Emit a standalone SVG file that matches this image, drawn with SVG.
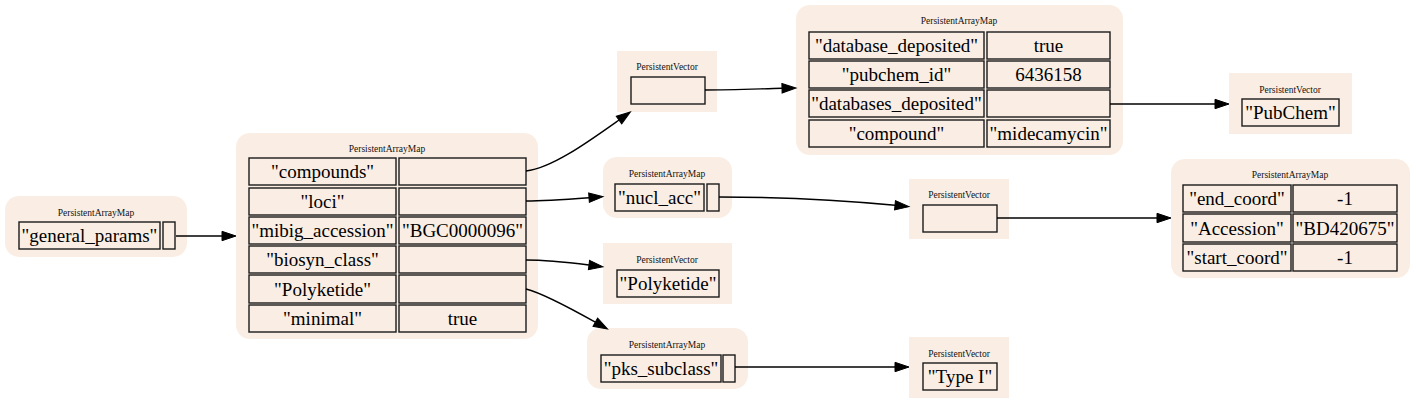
<svg xmlns="http://www.w3.org/2000/svg" width="1416" height="404" viewBox="0 0 1416 404" font-family="'Liberation Serif', 'Times New Roman', Times, serif">
<style>
.bg{fill:#ffffff}
.box{fill:#faeee4;stroke:none}
.cell{fill:#faeee4;stroke:#1a1a1a;stroke-width:1.4}
.ttl{font-family:'Liberation Serif',Times,serif;font-size:9.5px;fill:#111;text-anchor:middle}
.txt{font-family:'Liberation Serif',Times,serif;font-size:19px;fill:#000;text-anchor:middle}
.edge{fill:none;stroke:#000;stroke-width:1.4;marker-end:url(#ah)}
</style>
<defs>
<marker id="ah" markerUnits="userSpaceOnUse" markerWidth="15" markerHeight="10" viewBox="0 0 14 10" refX="0" refY="5" orient="auto" overflow="visible">
<path d="M0,0.3 L14,5 L0,9.7 Z" fill="#000" stroke="#000" stroke-width="1"/>
</marker>
</defs>
<rect class="bg" x="0" y="0" width="1416" height="404"/>

<g id="node-general">
<rect class="box" x="5" y="196" width="182" height="61" rx="14"/>
<text class="ttl" x="96" y="216">PersistentArrayMap</text>
<rect class="cell" x="19" y="222" width="141" height="27"/>
<text class="txt" x="89.5" y="242">"general_params"</text>
<rect class="cell" x="163" y="222" width="12" height="27"/>
</g>

<g id="node-main">
<rect class="box" x="236" y="133" width="302" height="206" rx="14"/>
<text class="ttl" x="387" y="152">PersistentArrayMap</text>
<rect class="cell" x="249" y="158" width="147" height="27"/>
<rect class="cell" x="399" y="158" width="127" height="27"/>
<text class="txt" x="322.5" y="178">"compounds"</text>
<rect class="cell" x="249" y="188" width="147" height="27"/>
<rect class="cell" x="399" y="188" width="127" height="27"/>
<text class="txt" x="322.5" y="208">"loci"</text>
<rect class="cell" x="249" y="217" width="147" height="27"/>
<rect class="cell" x="399" y="217" width="127" height="27"/>
<text class="txt" x="322.5" y="237">"mibig_accession"</text>
<text class="txt" x="462.5" y="237">"BGC0000096"</text>
<rect class="cell" x="249" y="246" width="147" height="27"/>
<rect class="cell" x="399" y="246" width="127" height="27"/>
<text class="txt" x="322.5" y="266">"biosyn_class"</text>
<rect class="cell" x="249" y="275" width="147" height="28"/>
<rect class="cell" x="399" y="275" width="127" height="28"/>
<text class="txt" x="322.5" y="296">"Polyketide"</text>
<rect class="cell" x="249" y="305" width="147" height="27"/>
<rect class="cell" x="399" y="305" width="127" height="27"/>
<text class="txt" x="322.5" y="325">"minimal"</text>
<text class="txt" x="462.5" y="325">true</text>
</g>

<g id="node-compounds-vec">
<rect class="box" x="617" y="51" width="100" height="61"/>
<text class="ttl" x="667" y="70">PersistentVector</text>
<rect class="cell" x="631" y="77" width="74" height="27"/>
</g>

<g id="node-compound-map">
<rect class="box" x="796" y="5" width="327" height="150" rx="14"/>
<text class="ttl" x="959" y="24">PersistentArrayMap</text>
<rect class="cell" x="809" y="32" width="175" height="27"/>
<rect class="cell" x="987" y="32" width="123" height="27"/>
<text class="txt" x="896.5" y="52">"database_deposited"</text>
<text class="txt" x="1048.5" y="52">true</text>
<rect class="cell" x="809" y="61" width="175" height="27"/>
<rect class="cell" x="987" y="61" width="123" height="27"/>
<text class="txt" x="896.5" y="81">"pubchem_id"</text>
<text class="txt" x="1048.5" y="81">6436158</text>
<rect class="cell" x="809" y="90" width="175" height="27"/>
<rect class="cell" x="987" y="90" width="123" height="27"/>
<text class="txt" x="896.5" y="110">"databases_deposited"</text>
<rect class="cell" x="809" y="120" width="175" height="27"/>
<rect class="cell" x="987" y="120" width="123" height="27"/>
<text class="txt" x="896.5" y="140">"compound"</text>
<text class="txt" x="1048.5" y="140">"midecamycin"</text>
</g>

<g id="node-pubchem-vec">
<rect class="box" x="1229" y="73" width="123" height="61"/>
<text class="ttl" x="1290" y="93">PersistentVector</text>
<rect class="cell" x="1242" y="99" width="97" height="27"/>
<text class="txt" x="1290.5" y="119">"PubChem"</text>
</g>

<g id="node-loci-map">
<rect class="box" x="603" y="157" width="129" height="61" rx="14"/>
<text class="ttl" x="667" y="177">PersistentArrayMap</text>
<rect class="cell" x="615" y="184" width="89" height="27"/>
<text class="txt" x="659.5" y="204">"nucl_acc"</text>
<rect class="cell" x="707" y="184" width="12" height="27"/>
</g>

<g id="node-nucl-vec">
<rect class="box" x="909" y="179" width="100" height="60"/>
<text class="ttl" x="959" y="198">PersistentVector</text>
<rect class="cell" x="923" y="205" width="74" height="27"/>
</g>

<g id="node-acc-map">
<rect class="box" x="1171" y="159" width="239" height="119" rx="14"/>
<text class="ttl" x="1290" y="178">PersistentArrayMap</text>
<rect class="cell" x="1183" y="185" width="108" height="27"/>
<rect class="cell" x="1293" y="185" width="104" height="27"/>
<text class="txt" x="1237" y="205">"end_coord"</text>
<text class="txt" x="1345" y="205">-1</text>
<rect class="cell" x="1183" y="214" width="108" height="28"/>
<rect class="cell" x="1293" y="214" width="104" height="28"/>
<text class="txt" x="1237" y="235">"Accession"</text>
<text class="txt" x="1345" y="235">"BD420675"</text>
<rect class="cell" x="1183" y="244" width="108" height="27"/>
<rect class="cell" x="1293" y="244" width="104" height="27"/>
<text class="txt" x="1237" y="264">"start_coord"</text>
<text class="txt" x="1345" y="264">-1</text>
</g>

<g id="node-polyketide-vec">
<rect class="box" x="603" y="243" width="129" height="61"/>
<text class="ttl" x="667" y="263">PersistentVector</text>
<rect class="cell" x="617" y="270" width="102" height="27"/>
<text class="txt" x="668" y="290">"Polyketide"</text>
</g>

<g id="node-pks-map">
<rect class="box" x="587" y="328" width="161" height="61" rx="14"/>
<text class="ttl" x="667" y="348">PersistentArrayMap</text>
<rect class="cell" x="601" y="355" width="120" height="27"/>
<text class="txt" x="661" y="375">"pks_subclass"</text>
<rect class="cell" x="723" y="355" width="12" height="27"/>
</g>

<g id="node-type-vec">
<rect class="box" x="909" y="337" width="100" height="61"/>
<text class="ttl" x="959" y="357">PersistentVector</text>
<rect class="cell" x="923" y="363" width="74" height="27"/>
<text class="txt" x="960" y="383">"Type I"</text>
</g>

<g id="connectors">
<path class="edge" d="M176,236 L222,236"/>
<path class="edge" d="M526,171 C552,168 588,142 619,120"/>
<path class="edge" d="M526,201 C545,201 565,199.5 589,197.7"/>
<path class="edge" d="M526,260 C545,260 565,262 589,265"/>
<path class="edge" d="M526,289 C542,293 570,308 595.3,322.2"/>
<path class="edge" d="M705,90 C730,90 755,89 782,88.3"/>
<path class="edge" d="M1110,104 L1215,104"/>
<path class="edge" d="M719,197 C780,197 840,200 895,205.3"/>
<path class="edge" d="M997,218 L1157,218"/>
<path class="edge" d="M735,367 L895,367"/>
</g>
</svg>
